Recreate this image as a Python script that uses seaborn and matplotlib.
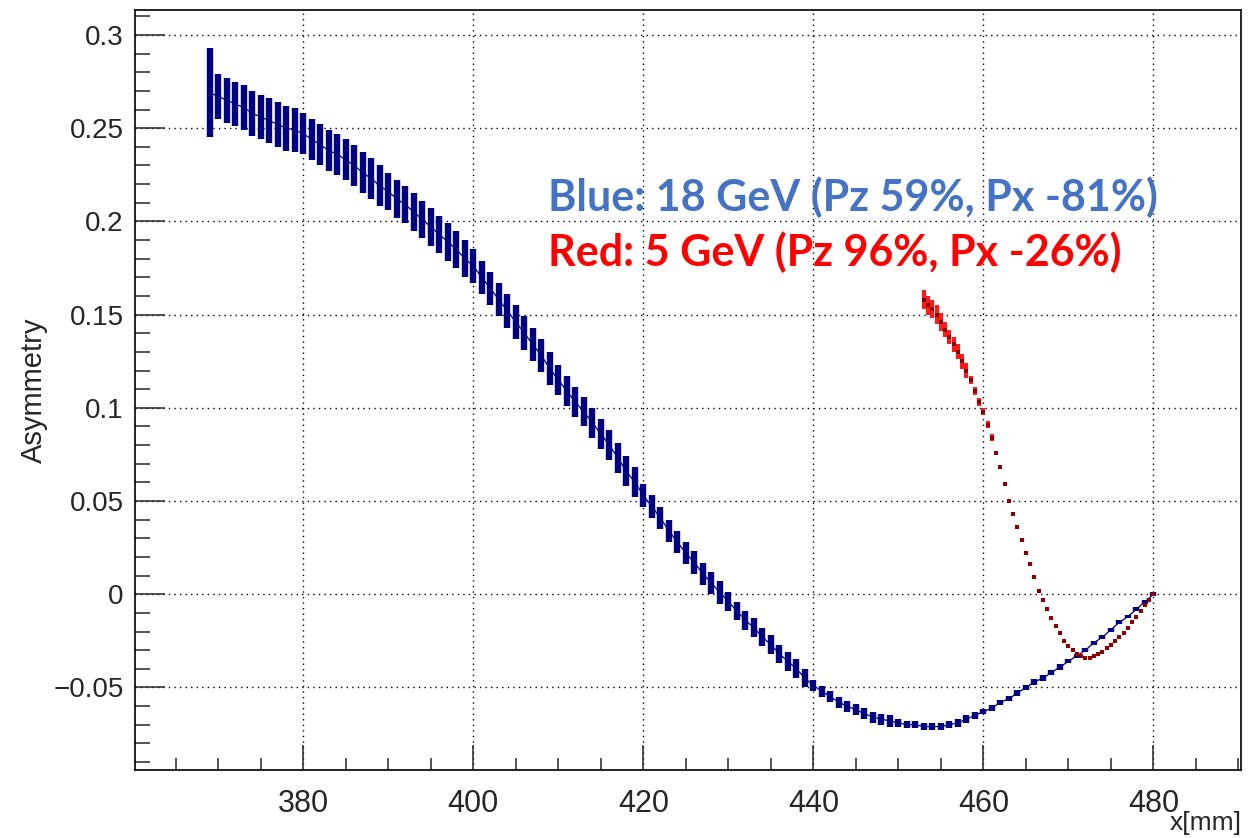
import matplotlib
matplotlib.use("Agg")
import matplotlib.pyplot as plt
import matplotlib.ticker as mticker
from matplotlib import font_manager
import seaborn as sns
import pandas as pd

# 18 GeV (blue) - 1 mm bins
blue_x = list(range(369, 481))
blue_y = [0.269, 0.267, 0.265, 0.263, 0.261, 0.258, 0.256, 0.254, 0.252, 0.250, 0.249,
          0.247, 0.244, 0.241, 0.238, 0.236, 0.233, 0.230, 0.226, 0.223, 0.219,
          0.216, 0.212, 0.209, 0.205, 0.201, 0.197, 0.193, 0.189, 0.185, 0.180,
          0.176, 0.170, 0.164, 0.158, 0.152, 0.146, 0.140, 0.134, 0.128, 0.121,
          0.115, 0.109, 0.103, 0.098, 0.092, 0.086, 0.080, 0.073, 0.066, 0.060,
          0.053, 0.047, 0.041, 0.034, 0.028, 0.022, 0.017, 0.011, 0.006, 0.001,
          -0.004, -0.009, -0.014, -0.018, -0.023, -0.027, -0.032, -0.036, -0.040, -0.045,
          -0.049, -0.052, -0.055, -0.058, -0.060, -0.062, -0.064, -0.066, -0.067, -0.068,
          -0.069, -0.070, -0.070, -0.071, -0.071, -0.071, -0.070, -0.069, -0.067, -0.065,
          -0.063, -0.061, -0.058, -0.056, -0.053, -0.050, -0.047, -0.045, -0.042, -0.039,
          -0.036, -0.033, -0.030, -0.026, -0.023, -0.019, -0.015, -0.012, -0.008, -0.004, 0.000]
blue_err = [0.024] + [0.012] * 10 + [0.011] * 10 + [0.010] * 10 + [0.009] * 10 \
    + [0.008] * 10 + [0.006] * 10 + [0.005] * 10 + [0.003] * 10 + [0.002] * 10 \
    + [0.0015] * 10 + [0.001] * 11

# 5 GeV (red) - 0.5 mm bins
red_x = [453.0, 453.5, 454.0, 454.5, 455.0, 455.5, 456.0, 456.5, 457.0, 457.5,
         458.0, 458.5, 459.0, 459.5, 460.0, 460.5, 461.0, 461.5, 462.0, 462.5,
         463.0, 463.5, 464.0, 464.5, 465.0, 465.5, 466.0, 466.5, 467.0, 467.5,
         468.0, 468.5, 469.0, 469.5, 470.0, 470.5, 471.0, 471.5, 472.0, 472.5,
         473.0, 473.5, 474.0, 474.5, 475.0, 475.5, 476.0, 476.5, 477.0, 477.5,
         478.0, 478.5, 479.0, 479.5, 480.0]
red_y = [0.158, 0.155, 0.153, 0.150, 0.146, 0.142, 0.138, 0.134, 0.130, 0.125,
         0.120, 0.115, 0.109, 0.103, 0.098, 0.091, 0.084, 0.076, 0.068, 0.059,
         0.050, 0.043, 0.036, 0.029, 0.022, 0.016, 0.009, 0.002, -0.003, -0.008,
         -0.013, -0.017, -0.021, -0.025, -0.028, -0.030, -0.032, -0.033, -0.034, -0.034,
         -0.033, -0.032, -0.031, -0.029, -0.027, -0.025, -0.023, -0.021, -0.018, -0.015,
         -0.012, -0.009, -0.006, -0.003, 0.000]
red_err = [0.005] * 5 + [0.004] * 6 + [0.002] * 6 + [0.001] * 38

blue_label = "Blue: 18 GeV (Pz 59%, Px -81%)"
red_label = "Red: 5 GeV (Pz 96%, Px -26%)"

sns.set_style("ticks")
names = {f.name for f in font_manager.fontManager.ttflist}
narrow = "Liberation Sans Narrow" if "Liberation Sans Narrow" in names else "Liberation Sans"
plt.rcParams['font.family'] = ['Liberation Sans', 'DejaVu Sans']

df_blue = pd.DataFrame({'x': blue_x, 'y': blue_y, 'err': blue_err})
df_red = pd.DataFrame({'x': red_x, 'y': red_y, 'err': red_err})

fig = plt.figure(figsize=(12.58, 8.38), dpi=100)
ax = fig.add_axes([0.1073, 0.0811, 0.8792, 0.907])

navy = '#000080'
ax.errorbar(df_blue['x'], df_blue['y'], yerr=df_blue['err'], fmt='none',
            ecolor=navy, elinewidth=4.6, capsize=0, zorder=3)
sns.lineplot(data=df_blue, x='x', y='y', color=navy, linewidth=0.9, ax=ax, zorder=4)

ax.errorbar(df_red['x'], df_red['y'], yerr=df_red['err'], fmt='none',
            ecolor='#ff1a1a', elinewidth=3.0, capsize=0, zorder=5)
sns.scatterplot(data=df_red, x='x', y='y', color='#8b0000', marker='s', s=5,
                linewidth=0, ax=ax, zorder=6)

ax.set_xlim(360.2, 490.3)
ax.set_ylim(-0.0943, 0.3134)

ax.xaxis.set_major_locator(mticker.MultipleLocator(20))
ax.xaxis.set_minor_locator(mticker.MultipleLocator(5))
ax.yaxis.set_major_locator(mticker.MultipleLocator(0.05))
ax.yaxis.set_minor_locator(mticker.MultipleLocator(0.01))
ax.yaxis.set_major_formatter(mticker.FuncFormatter(
    lambda v, p: "0" if abs(v) < 1e-9 else ("%g" % v).replace("-", "\u2212")))

ax.tick_params(axis='x', which='major', direction='in', length=18, width=1.1,
               pad=14, labelsize=22)
ax.tick_params(axis='x', which='minor', direction='in', length=8.6, width=1.1)
ax.tick_params(axis='y', which='major', direction='in', length=21.6, width=1.1,
               pad=8, labelsize=20)
ax.tick_params(axis='y', which='minor', direction='in', length=10.8, width=1.1)
for lab in ax.get_xticklabels():
    lab.set_fontfamily(narrow)

ax.grid(True, which='major', color='black', linestyle=(0, (1, 3)), linewidth=1.0)
ax.set_axisbelow(True)
for s in ax.spines.values():
    s.set_color('black')
    s.set_linewidth(1.2)

ax.set_xlabel("")
ax.set_ylabel("Asymmetry", fontsize=21, labelpad=4)
fig.text(0.987, 0.004, "x[mm]", ha='right', va='bottom', fontsize=19, family=narrow)

ax.text(0.3734, 0.7355, blue_label, transform=ax.transAxes, color='#4472c4',
        fontsize=31, fontweight='bold', family=['Lato', 'DejaVu Sans'], va='baseline')
ax.text(0.3734, 0.663, red_label, transform=ax.transAxes, color='#ff0000',
        fontsize=31, fontweight='bold', family=['Lato', 'DejaVu Sans'], va='baseline')

fig.savefig("out.png", dpi=100)
